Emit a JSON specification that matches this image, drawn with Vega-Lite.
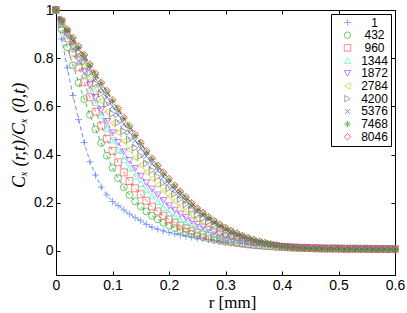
{
 "$schema": "https://vega.github.io/schema/vega-lite/v6.json",
 "width": 339, "height": 265,
 "autosize": {"type": "none"},
 "padding": {"left": 56, "top": 10, "right": 12, "bottom": 38},
 "config": {
  "view": {"stroke": "black", "strokeWidth": 1},
  "axis": {"domain": false, "grid": false, "tickColor": "black", "tickSize": -4, "labelFlush": false, "labelFont": "Liberation Sans", "labelFontSize": 14, "labelColor": "black", "titleColor": "black", "labelPadding": 7},
  "legend": {"orient": "top-right", "offset": 4, "strokeColor": "black", "fillColor": "white", "padding": 2.5, "rowPadding": 0.7, "symbolSize": 42, "symbolStrokeWidth": 1, "symbolOffset": 8, "labelOffset": 21, "labelAlign": "center", "labelFont": "Liberation Sans", "labelFontSize": 12, "labelColor": "black"}
 },
 "data": {"values": [
  {"r":0,"1":1,"432":1,"960":1,"1344":1,"1872":1,"2784":1,"4200":1,"5376":1,"7468":1,"8046":1},
  {"r":0.01,"1":0.88,"432":0.92,"960":0.942,"1344":0.948,"1872":0.95,"2784":0.953,"4200":0.955,"5376":0.957,"7468":0.958,"8046":0.96},
  {"r":0.02,"1":0.76,"432":0.845,"960":0.883,"1344":0.895,"1872":0.9,"2784":0.906,"4200":0.91,"5376":0.914,"7468":0.918,"8046":0.92},
  {"r":0.03,"1":0.645,"432":0.77,"960":0.823,"1344":0.84,"1872":0.848,"2784":0.859,"4200":0.866,"5376":0.873,"7468":0.882,"8046":0.885},
  {"r":0.04,"1":0.545,"432":0.698,"960":0.762,"1344":0.785,"1872":0.796,"2784":0.812,"4200":0.825,"5376":0.836,"7468":0.846,"8046":0.85},
  {"r":0.05,"1":0.45,"432":0.63,"960":0.7,"1344":0.73,"1872":0.745,"2784":0.765,"4200":0.785,"5376":0.8,"7468":0.81,"8046":0.814},
  {"r":0.06,"1":0.37,"432":0.565,"960":0.638,"1344":0.672,"1872":0.69,"2784":0.717,"4200":0.74,"5376":0.756,"7468":0.771,"8046":0.775},
  {"r":0.07,"1":0.315,"432":0.505,"960":0.578,"1344":0.616,"1872":0.637,"2784":0.67,"4200":0.695,"5376":0.714,"7468":0.732,"8046":0.737},
  {"r":0.08,"1":0.265,"432":0.448,"960":0.52,"1344":0.562,"1872":0.586,"2784":0.622,"4200":0.652,"5376":0.675,"7468":0.695,"8046":0.7},
  {"r":0.09,"1":0.232,"432":0.395,"960":0.465,"1344":0.51,"1872":0.537,"2784":0.576,"4200":0.61,"5376":0.637,"7468":0.659,"8046":0.665},
  {"r":0.1,"1":0.205,"432":0.345,"960":0.415,"1344":0.46,"1872":0.49,"2784":0.53,"4200":0.57,"5376":0.6,"7468":0.622,"8046":0.628},
  {"r":0.11,"1":0.188,"432":0.302,"960":0.368,"1344":0.418,"1872":0.45,"2784":0.492,"4200":0.533,"5376":0.563,"7468":0.586,"8046":0.592},
  {"r":0.12,"1":0.17,"432":0.264,"960":0.326,"1344":0.38,"1872":0.411,"2784":0.455,"4200":0.497,"5376":0.527,"7468":0.549,"8046":0.555},
  {"r":0.13,"1":0.153,"432":0.232,"960":0.29,"1344":0.344,"1872":0.375,"2784":0.42,"4200":0.462,"5376":0.492,"7468":0.514,"8046":0.52},
  {"r":0.14,"1":0.138,"432":0.206,"960":0.26,"1344":0.311,"1872":0.342,"2784":0.387,"4200":0.428,"5376":0.458,"7468":0.479,"8046":0.485},
  {"r":0.15,"1":0.125,"432":0.185,"960":0.235,"1344":0.28,"1872":0.31,"2784":0.355,"4200":0.395,"5376":0.425,"7468":0.445,"8046":0.45},
  {"r":0.16,"1":0.11,"432":0.164,"960":0.208,"1344":0.253,"1872":0.282,"2784":0.327,"4200":0.364,"5376":0.393,"7468":0.41,"8046":0.415},
  {"r":0.17,"1":0.098,"432":0.146,"960":0.184,"1344":0.228,"1872":0.256,"2784":0.3,"4200":0.335,"5376":0.362,"7468":0.38,"8046":0.385},
  {"r":0.18,"1":0.09,"432":0.131,"960":0.164,"1344":0.205,"1872":0.232,"2784":0.274,"4200":0.308,"5376":0.333,"7468":0.35,"8046":0.355},
  {"r":0.19,"1":0.083,"432":0.117,"960":0.146,"1344":0.182,"1872":0.209,"2784":0.25,"4200":0.283,"5376":0.306,"7468":0.322,"8046":0.327},
  {"r":0.2,"1":0.077,"432":0.105,"960":0.13,"1344":0.16,"1872":0.187,"2784":0.227,"4200":0.26,"5376":0.28,"7468":0.295,"8046":0.3},
  {"r":0.21,"1":0.071,"432":0.095,"960":0.117,"1344":0.145,"1872":0.169,"2784":0.206,"4200":0.237,"5376":0.255,"7468":0.268,"8046":0.273},
  {"r":0.22,"1":0.066,"432":0.086,"960":0.105,"1344":0.131,"1872":0.153,"2784":0.187,"4200":0.215,"5376":0.232,"7468":0.243,"8046":0.248},
  {"r":0.23,"1":0.061,"432":0.078,"960":0.094,"1344":0.118,"1872":0.138,"2784":0.168,"4200":0.194,"5376":0.21,"7468":0.22,"8046":0.224},
  {"r":0.24,"1":0.057,"432":0.07,"960":0.084,"1344":0.106,"1872":0.124,"2784":0.15,"4200":0.172,"5376":0.187,"7468":0.196,"8046":0.2},
  {"r":0.25,"1":0.053,"432":0.062,"960":0.075,"1344":0.094,"1872":0.11,"2784":0.133,"4200":0.152,"5376":0.165,"7468":0.174,"8046":0.178},
  {"r":0.26,"1":0.05,"432":0.057,"960":0.068,"1344":0.085,"1872":0.099,"2784":0.12,"4200":0.137,"5376":0.149,"7468":0.156,"8046":0.16},
  {"r":0.27,"1":0.046,"432":0.052,"960":0.061,"1344":0.076,"1872":0.089,"2784":0.107,"4200":0.122,"5376":0.133,"7468":0.139,"8046":0.142},
  {"r":0.28,"1":0.043,"432":0.047,"960":0.055,"1344":0.068,"1872":0.079,"2784":0.095,"4200":0.108,"5376":0.117,"7468":0.123,"8046":0.126},
  {"r":0.29,"1":0.039,"432":0.042,"960":0.049,"1344":0.061,"1872":0.07,"2784":0.084,"4200":0.095,"5376":0.103,"7468":0.108,"8046":0.111},
  {"r":0.3,"1":0.036,"432":0.038,"960":0.044,"1344":0.054,"1872":0.062,"2784":0.074,"4200":0.083,"5376":0.09,"7468":0.095,"8046":0.097},
  {"r":0.31,"1":0.034,"432":0.035,"960":0.04,"1344":0.049,"1872":0.055,"2784":0.066,"4200":0.073,"5376":0.079,"7468":0.083,"8046":0.085},
  {"r":0.32,"1":0.032,"432":0.032,"960":0.036,"1344":0.044,"1872":0.049,"2784":0.058,"4200":0.064,"5376":0.069,"7468":0.072,"8046":0.074},
  {"r":0.33,"1":0.03,"432":0.029,"960":0.032,"1344":0.039,"1872":0.043,"2784":0.051,"4200":0.056,"5376":0.06,"7468":0.063,"8046":0.064},
  {"r":0.34,"1":0.027,"432":0.026,"960":0.029,"1344":0.034,"1872":0.038,"2784":0.044,"4200":0.048,"5376":0.052,"7468":0.054,"8046":0.055},
  {"r":0.35,"1":0.025,"432":0.024,"960":0.026,"1344":0.03,"1872":0.033,"2784":0.038,"4200":0.041,"5376":0.044,"7468":0.046,"8046":0.047},
  {"r":0.36,"1":0.023,"432":0.022,"960":0.024,"1344":0.027,"1872":0.03,"2784":0.034,"4200":0.036,"5376":0.038,"7468":0.039,"8046":0.04},
  {"r":0.37,"1":0.021,"432":0.02,"960":0.022,"1344":0.024,"1872":0.027,"2784":0.03,"4200":0.031,"5376":0.033,"7468":0.033,"8046":0.034},
  {"r":0.38,"1":0.02,"432":0.019,"960":0.02,"1344":0.022,"1872":0.024,"2784":0.026,"4200":0.027,"5376":0.028,"7468":0.028,"8046":0.029},
  {"r":0.39,"1":0.018,"432":0.017,"960":0.018,"1344":0.019,"1872":0.021,"2784":0.022,"4200":0.023,"5376":0.024,"7468":0.024,"8046":0.024},
  {"r":0.4,"1":0.017,"432":0.016,"960":0.016,"1344":0.017,"1872":0.018,"2784":0.019,"4200":0.019,"5376":0.02,"7468":0.02,"8046":0.02},
  {"r":0.41,"1":0.016,"432":0.015,"960":0.015,"1344":0.016,"1872":0.017,"2784":0.017,"4200":0.017,"5376":0.018,"7468":0.017,"8046":0.017},
  {"r":0.42,"1":0.015,"432":0.014,"960":0.014,"1344":0.015,"1872":0.015,"2784":0.015,"4200":0.015,"5376":0.016,"7468":0.015,"8046":0.014},
  {"r":0.43,"1":0.014,"432":0.014,"960":0.013,"1344":0.014,"1872":0.014,"2784":0.014,"4200":0.013,"5376":0.014,"7468":0.013,"8046":0.012},
  {"r":0.44,"1":0.013,"432":0.013,"960":0.013,"1344":0.013,"1872":0.013,"2784":0.013,"4200":0.012,"5376":0.012,"7468":0.011,"8046":0.011},
  {"r":0.45,"1":0.013,"432":0.012,"960":0.012,"1344":0.012,"1872":0.012,"2784":0.012,"4200":0.011,"5376":0.011,"7468":0.01,"8046":0.01},
  {"r":0.46,"1":0.012,"432":0.012,"960":0.011,"1344":0.011,"1872":0.011,"2784":0.011,"4200":0.01,"5376":0.01,"7468":0.009,"8046":0.009},
  {"r":0.47,"1":0.012,"432":0.011,"960":0.011,"1344":0.011,"1872":0.01,"2784":0.01,"4200":0.009,"5376":0.009,"7468":0.008,"8046":0.009},
  {"r":0.48,"1":0.011,"432":0.011,"960":0.01,"1344":0.01,"1872":0.01,"2784":0.01,"4200":0.009,"5376":0.009,"7468":0.008,"8046":0.008},
  {"r":0.49,"1":0.011,"432":0.011,"960":0.01,"1344":0.01,"1872":0.01,"2784":0.01,"4200":0.009,"5376":0.009,"7468":0.008,"8046":0.008},
  {"r":0.5,"1":0.011,"432":0.011,"960":0.01,"1344":0.01,"1872":0.01,"2784":0.01,"4200":0.009,"5376":0.009,"7468":0.008,"8046":0.008},
  {"r":0.51,"1":0.01,"432":0.01,"960":0.009,"1344":0.009,"1872":0.009,"2784":0.009,"4200":0.008,"5376":0.008,"7468":0.007,"8046":0.007},
  {"r":0.52,"1":0.01,"432":0.01,"960":0.009,"1344":0.009,"1872":0.009,"2784":0.009,"4200":0.008,"5376":0.008,"7468":0.007,"8046":0.007},
  {"r":0.53,"1":0.01,"432":0.01,"960":0.009,"1344":0.009,"1872":0.009,"2784":0.009,"4200":0.008,"5376":0.008,"7468":0.007,"8046":0.007},
  {"r":0.54,"1":0.009,"432":0.009,"960":0.009,"1344":0.009,"1872":0.009,"2784":0.009,"4200":0.008,"5376":0.008,"7468":0.007,"8046":0.007},
  {"r":0.55,"1":0.009,"432":0.009,"960":0.009,"1344":0.009,"1872":0.009,"2784":0.009,"4200":0.008,"5376":0.008,"7468":0.007,"8046":0.007},
  {"r":0.56,"1":0.009,"432":0.009,"960":0.008,"1344":0.008,"1872":0.008,"2784":0.008,"4200":0.007,"5376":0.007,"7468":0.006,"8046":0.006},
  {"r":0.57,"1":0.009,"432":0.009,"960":0.008,"1344":0.008,"1872":0.008,"2784":0.008,"4200":0.007,"5376":0.007,"7468":0.006,"8046":0.006},
  {"r":0.58,"1":0.008,"432":0.008,"960":0.008,"1344":0.008,"1872":0.008,"2784":0.008,"4200":0.007,"5376":0.007,"7468":0.006,"8046":0.006},
  {"r":0.59,"1":0.008,"432":0.008,"960":0.008,"1344":0.008,"1872":0.008,"2784":0.008,"4200":0.007,"5376":0.007,"7468":0.006,"8046":0.006},
  {"r":0.6,"1":0.008,"432":0.008,"960":0.008,"1344":0.008,"1872":0.008,"2784":0.008,"4200":0.007,"5376":0.007,"7468":0.006,"8046":0.006}
 ]},
 "transform": [{"fold": ["1","432","960","1344","1872","2784","4200","5376","7468","8046"], "as": ["series","v"]}],
 "layer": [
  {
   "mark": {"type": "line", "strokeDash": [4,3], "strokeWidth": 0.9},
   "encoding": {
    "x": {"field": "r", "type": "quantitative", "scale": {"domain": [0,0.6], "nice": false, "zero": false},
          "axis": {"orient": "bottom", "values": [0,0.1,0.2,0.3,0.4,0.5,0.6], "format": "~g", "title": "r [mm]", "titleFont": "Liberation Serif", "titleFontSize": 17, "titleFontWeight": "normal", "titlePadding": 2, "titleX": 176}},
    "y": {"field": "v", "type": "quantitative", "scale": {"domain": [-0.1,1], "nice": false, "zero": false},
          "axis": {"orient": "left", "values": [-0.1,0,0.2,0.4,0.6,0.8,1], "labelExpr": "datum.value < -0.05 ? '' : format(datum.value, '~g')", "title": "Cₓ (r,t)/Cₓ (0,t)", "titleFont": "Liberation Serif", "titleFontSize": 18, "titleFontStyle": "italic", "titleFontWeight": "normal", "titlePadding": 5, "titleY": 125}},
    "stroke": {"field": "series", "type": "nominal",
      "scale": {"domain": ["1","432","960","1344","1872","2784","4200","5376","7468","8046","none"], "range": ["#5b7bff","#33b533","#ff5a5a","#55f5c0","#a94bff","#c8d42c","#7f7f7f","#3355ff","#22a022","#ff2a2a","#000000"]},
      "legend": null}
   }
  },
  {
   "mark": {"type": "point", "filled": false, "strokeWidth": 1, "size": 48},
   "encoding": {
    "x": {"field": "r", "type": "quantitative", "scale": {"domain": [0,0.6], "nice": false, "zero": false}, "axis": null},
    "y": {"field": "v", "type": "quantitative", "scale": {"domain": [-0.1,1], "nice": false, "zero": false}, "axis": null},
    "color": {"field": "series", "type": "nominal",
      "scale": {"domain": ["1","432","960","1344","1872","2784","4200","5376","7468","8046"], "range": ["#5b7bff","#33b533","#ff5a5a","#55f5c0","#a94bff","#c8d42c","#7f7f7f","#3355ff","#22a022","#ff2a2a"]},
      "legend": {"title": null}},
    "shape": {"field": "series", "type": "nominal",
      "scale": {"domain": ["1","432","960","1344","1872","2784","4200","5376","7468","8046"], "range": ["M-1,0L1,0M0,-1L0,1","circle","square","triangle-up","triangle-down","triangle-left","triangle-right","M-0.75,-0.75L0.75,0.75M-0.75,0.75L0.75,-0.75","M-1,0L1,0M0,-1L0,1M-0.7,-0.7L0.7,0.7M-0.7,0.7L0.7,-0.7","diamond"]},
      "legend": {"title": null}}
   }
  },
  {
   "mark": {"type": "point", "opacity": 0},
   "encoding": {
    "x": {"field": "r", "type": "quantitative", "scale": {"domain": [0,0.6], "nice": false, "zero": false}, "axis": {"orient": "top", "values": [0,0.1,0.2,0.3,0.4,0.5,0.6], "labels": false, "title": null}},
    "y": {"field": "v", "type": "quantitative", "scale": {"domain": [-0.1,1], "nice": false, "zero": false}, "axis": {"orient": "right", "values": [-0.1,0,0.2,0.4,0.6,0.8,1], "labels": false, "title": null}}
   }
  }
 ],
 "resolve": {"axis": {"x": "independent", "y": "independent"}}
}
